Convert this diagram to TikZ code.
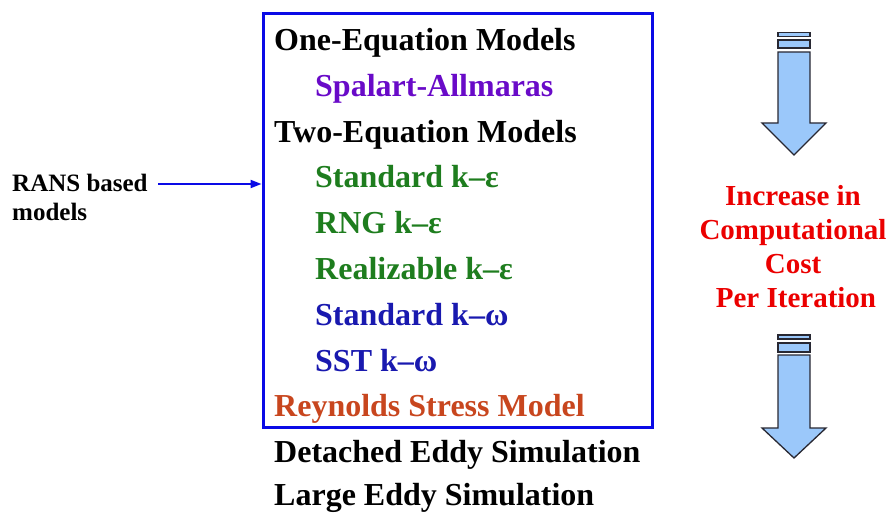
\documentclass[tikz,border=0pt]{standalone}
\usepackage{fontspec}
\setmainfont{Liberation Serif}
\usetikzlibrary{arrows.meta}
\definecolor{boxblue}{RGB}{10,10,230}
\definecolor{mpurple}{RGB}{105,10,200}
\definecolor{mgreen}{RGB}{30,125,30}
\definecolor{mblue}{RGB}{25,25,175}
\definecolor{morange}{RGB}{200,70,30}
\definecolor{mred}{RGB}{235,0,0}
\definecolor{arrfill}{RGB}{155,200,250}
\definecolor{arrline}{RGB}{40,40,50}
\tikzset{
  item/.style={anchor=base west, inner sep=0pt, font=\bfseries\fontsize{32}{32}\selectfont},
  side/.style={inner sep=0pt, font=\bfseries\fontsize{25}{29}\selectfont, align=left, anchor=north west},
  cost/.style={inner sep=0pt, font=\bfseries\fontsize{29}{34}\selectfont, text=mred, align=center, anchor=north},
  blockarrow/.style={fill=arrfill, draw=arrline, line width=1.3pt, line join=miter},
  frame/.style={draw=boxblue, line width=3pt, inner sep=0pt, minimum width=389pt, minimum height=413pt},
  link/.style={draw=boxblue, line width=2pt, -{Triangle[length=11pt,width=8pt]}}
}
\begin{document}
\begin{tikzpicture}[x=1pt,y=-1pt]
\useasboundingbox (0,0) rectangle (888,513);
\node[frame] (box) at (457.5,220.5) {};
\node[item] (one) at (274,50.5) {One-Equation Models};
\node[item, text=mpurple] (sa) at (315,96.3) {Spalart-Allmaras};
\node[item] (two) at (274,142.1) {Two-Equation Models};
\node[item, text=mgreen] (ske) at (315,187.9) {Standard k–ε};
\node[item, text=mgreen] (rng) at (315,233.7) {RNG k–ε};
\node[item, text=mgreen] (rke) at (315,279.5) {Realizable k–ε};
\node[item, text=mblue] (skw) at (315,325.3) {Standard k–ω};
\node[item, text=mblue] (sst) at (315,371.1) {SST k–ω};
\node[item, text=morange] (rsm) at (274,416.9) {Reynolds Stress Model};
\node[item] (des) at (274,462.7) {Detached Eddy Simulation};
\node[item] (les) at (274,505.5) {Large Eddy Simulation};
\node[side] (rans) at (12,174) {RANS based\\models};
\coordinate (ransarrow) at (158,184);
\draw[link] (ransarrow) -- (ransarrow -| box.west);
\node[cost] (costtext) at (793,185.5) {Increase in\\Computational\\Cost\\\hspace*{6pt}Per Iteration};
% upper block arrow
\filldraw[blockarrow] (778,32.7) rectangle (810,36.7);
\filldraw[blockarrow] (778,40) rectangle (810,48);
\filldraw[blockarrow] (778,52) -- (810,52) -- (810,123) -- (826,123) -- (794,155) -- (762,123) -- (778,123) -- cycle;
% lower block arrow
\filldraw[blockarrow] (778,335) rectangle (810,339);
\filldraw[blockarrow] (778,343) rectangle (810,352);
\filldraw[blockarrow] (778,355) -- (810,355) -- (810,428) -- (826,428) -- (794,458) -- (762,428) -- (778,428) -- cycle;
\end{tikzpicture}
\end{document}
